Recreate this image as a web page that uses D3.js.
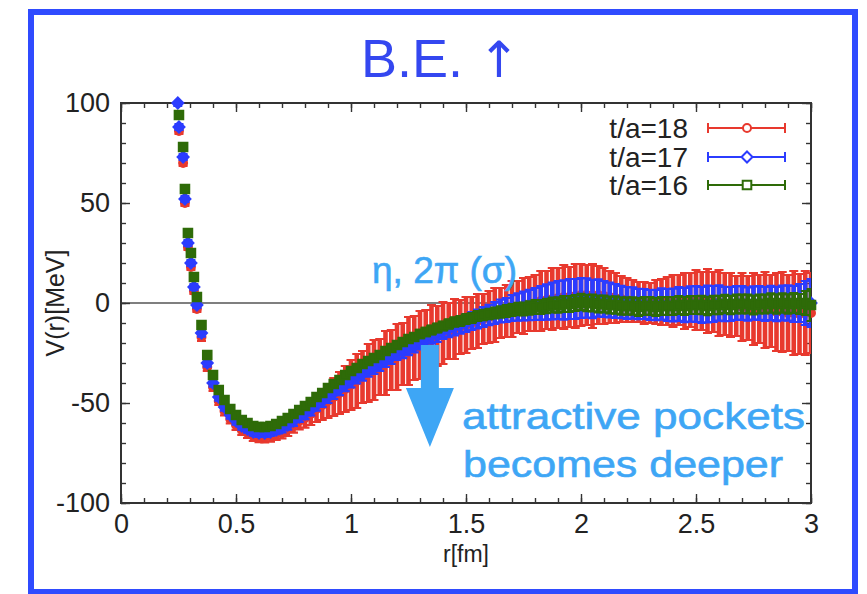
<!DOCTYPE html>
<html>
<head>
<meta charset="utf-8">
<script src="https://cdn.jsdelivr.net/npm/d3@7"></script>
<style>
  body { margin: 0; background: #fff; }
  svg { display: block; font-family: "Liberation Sans", Arial, sans-serif; }
</style>
</head>
<body>
<div id="chart"></div>
<script>
// r [fm] of the lattice points (shared by the three time slices)
const rValues = [0.247, 0.252, 0.27, 0.278, 0.291, 0.304, 0.317, 0.33,
  0.35, 0.375, 0.4, 0.425, 0.45, 0.475, 0.5, 0.525, 0.55, 0.575,
  0.6, 0.625, 0.65, 0.675, 0.7, 0.725, 0.75, 0.775, 0.8, 0.825, 0.85, 0.875,
  0.9, 0.925, 0.95, 0.975, 1.0, 1.025, 1.05, 1.075, 1.1, 1.125, 1.15, 1.175,
  1.2, 1.225, 1.25, 1.275, 1.3, 1.325, 1.35, 1.375, 1.4, 1.425, 1.45, 1.475,
  1.5, 1.525, 1.55, 1.575, 1.6, 1.625, 1.65, 1.675, 1.7, 1.725, 1.75, 1.775,
  1.8, 1.825, 1.85, 1.875, 1.9, 1.925, 1.95, 1.975, 2.0, 2.025, 2.05, 2.075,
  2.1, 2.125, 2.15, 2.175, 2.2, 2.225, 2.25, 2.275, 2.3, 2.325, 2.35, 2.375,
  2.4, 2.425, 2.45, 2.475, 2.5, 2.525, 2.55, 2.575, 2.6, 2.625, 2.65, 2.675,
  2.7, 2.725, 2.75, 2.775, 2.8, 2.825, 2.85, 2.875, 2.9, 2.925, 2.95, 2.975, 3.0];

// t/a=18
const v18 = [103, 86, 70, 50, 28, 18, 6, -3,
  -17, -32, -42, -49, -54, -58, -61, -63.5, -65, -66.5,
  -67, -67, -66.5, -65.5, -64.5, -63, -61, -59, -57.5, -55.5, -53, -51,
  -49, -47, -45, -43, -41, -39, -37, -35, -33.5, -32, -30, -28.5,
  -27, -25.5, -24, -22.5, -21, -19, -17.5, -16.5, -15, -14, -13, -12,
  -11, -10, -9, -8, -7, -6, -5, -4, -3, -2, -1.5, -0.5,
  0, 1, 1.5, 2, 2.5, 3, 3, 3.5, 4, 4, 3.5, 4,
  3.5, 3, 2.5, 2, 1.5, 1, 0.5, 0, 0, 0.5, 0.5, 1,
  1, 1.5, 1, 1.5, 1.5, 1, 1, 0.5, 0, -0.5, -1, -1.5,
  -2, -2.5, -3, -3, -3.5, -4, -4.5, -4.5, -5, -5, -5.5, -5, -5];
const e18 = [1.5, 1.5, 1.5, 1.5, 1.5, 1.5, 1.5, 1.5,
  2, 2, 2, 2, 2.2, 2.2, 2.4, 2.4, 2.5, 2.5,
  2.6, 2.7, 2.8, 3, 3.2, 3.5, 3.8, 4.2, 4.8, 5.5, 6.5, 7.5,
  8.5, 9.5, 10.5, 11.5, 12.5, 13.5, 13, 14.5, 15, 14, 16, 15,
  16.5, 15.5, 17, 16, 17, 15.5, 16.5, 15, 15.5, 14, 15, 13.5,
  14, 13, 13.5, 12.5, 13, 13.5, 12.5, 13, 14, 13, 14, 13.5,
  14, 15, 14.5, 15.5, 15, 16, 15, 16, 15.5, 15, 16, 14.5,
  14, 13, 12.5, 11.5, 11, 10.5, 10, 10.5, 10, 11, 11.5, 12,
  13, 12.5, 14, 13.5, 15, 14.5, 16, 15, 16.5, 15.5, 16, 15,
  17, 16, 18, 17, 19, 18, 19.5, 20, 19, 21, 20, 21, 20];

// t/a=17
const v17 = [100, 88, 73, 52, 30, 20, 8, -1,
  -15, -30, -40, -47, -52, -56, -59, -61.5, -63, -64.5,
  -65, -65, -64.5, -63.5, -62.5, -61, -59, -57, -55.5, -53.5, -51, -49,
  -47, -45, -43, -41, -39, -37, -35.5, -33.5, -32, -30.5, -28.5, -27,
  -25, -24, -22.5, -21, -19.5, -18, -16.5, -15.5, -14, -13, -12, -11,
  -10, -9, -8, -7, -6, -5, -4, -3.5, -2.5, -2, -1.5, -1,
  -0.5, 0, 0.5, 1, 1.5, 1.5, 2, 2, 2.5, 2.5, 2, 2.5,
  2, 1.5, 1, 0.5, 0, 0, -0.5, -0.5, -1, -1, -0.5, -1,
  -1, -0.5, -1, -0.5, -0.5, -1, -0.5, -0.5, 0, -0.5, -0.5, 0,
  0, -0.5, 0, 0, -0.5, 0, -0.5, 0, 0, -0.5, 0, 0, 0];
const e17 = [1.5, 1.5, 1.5, 1.5, 1.5, 1.5, 1.5, 1.5,
  1.8, 1.8, 1.8, 1.8, 1.8, 1.8, 1.8, 1.8, 1.8, 1.8,
  2, 2, 2, 2.1, 2.2, 2.3, 2.4, 2.5, 2.6, 2.7, 2.8, 2.9,
  3, 3, 3.1, 3.1, 3.2, 3.2, 3.3, 3.3, 3.4, 3.4, 3.5, 3.5,
  3.5, 3.6, 3.6, 3.7, 3.7, 3.8, 3.8, 3.9, 4, 4.1, 4.2, 4.3,
  4.4, 4.5, 4.7, 4.9, 5.1, 5.4, 5.7, 6, 6.4, 6.8, 7.2, 7.6,
  8, 8.4, 8.8, 9.2, 9.5, 9.8, 10, 10, 10, 9.8, 9.6, 9.3,
  9, 8.7, 8.4, 8.1, 8, 7.8, 7.6, 7.5, 7.5, 7.6, 7.8, 8,
  8.2, 8.4, 8.6, 8.8, 9, 9, 9.2, 9, 8.8, 8.6, 8.5, 8.4,
  8.4, 8.3, 8.3, 8.4, 8.5, 8.6, 8.6, 8.7, 8.8, 9, 9.5, 11, 12];

// t/a=16
const v16 = [106, 94, 78, 57, 35, 25, 13, 3,
  -11, -26, -36, -43.5, -48.5, -53, -56, -58.5, -60, -61.5,
  -62, -62, -61.5, -60.5, -59, -57.5, -55.5, -53.5, -51.5, -49.5, -47, -45,
  -42.5, -40.5, -38.5, -36, -34, -32.5, -30.5, -29, -27.5, -26, -24, -22.5,
  -21, -19.5, -18, -17, -15.5, -14.5, -13.5, -12.5, -11.5, -10.5, -9.5, -9,
  -8, -7.5, -6.5, -6, -5.5, -5, -4.5, -4, -3.5, -3, -3, -2.5,
  -2, -2, -1.5, -1, -1, -0.5, -0.5, 0, 0.5, 0, 0, -0.5,
  -0.5, -1, -1, -1.5, -1.5, -1.5, -2, -1.5, -1.5, -2, -1.5, -1.5,
  -1.5, -1, -1.5, -1, -1, -1, -1.5, -1, -1, -0.5, -1, -0.5,
  -0.5, -0.5, -1, -0.5, -0.5, 0, -0.5, 0, -0.5, 0, -0.5, 0, -1];
const e16 = [1, 1, 1, 1, 1, 1, 1, 1,
  1.2, 1.2, 1.2, 1.2, 1.2, 1.2, 1.2, 1.2, 1.2, 1.2,
  1.2, 1.2, 1.3, 1.3, 1.4, 1.4, 1.4, 1.5, 1.5, 1.5, 1.5, 1.5,
  1.5, 1.6, 1.6, 1.6, 1.6, 1.7, 1.7, 1.7, 1.8, 1.8, 1.8, 1.9,
  1.9, 2, 2, 2, 2.1, 2.1, 2.2, 2.2, 2.2, 2.3, 2.3, 2.4,
  2.4, 2.5, 2.5, 2.6, 2.6, 2.7, 2.8, 2.9, 3, 3.1, 3.2, 3.3,
  3.4, 3.5, 3.6, 3.7, 3.8, 3.9, 4, 4, 4.1, 4.1, 4.2, 4.2,
  4.2, 4.2, 4.3, 4.3, 4.3, 4.3, 4.4, 4.4, 4.4, 4.4, 4.4, 4.5,
  4.5, 4.5, 4.5, 4.5, 4.5, 4.6, 4.6, 4.6, 4.6, 4.6, 4.6, 4.7,
  4.7, 4.7, 4.7, 4.7, 4.7, 4.8, 4.8, 4.8, 4.8, 4.9, 5, 6, 8];

const seriesLabels = ["t/a=18", "t/a=17", "t/a=16"];
const xTicks = [0, 0.5, 1, 1.5, 2, 2.5, 3];
const yTicks = [-100, -50, 0, 50, 100];

const width = 867, height = 594;
const margin = {left: 121, right: 56, top: 103, bottom: 91};

const svg = d3.select("#chart").append("svg")
  .attr("width", width)
  .attr("height", height);

// blue frame around the slide panel
svg.append("rect")
  .attr("x", 31).attr("y", 12)
  .attr("width", 824).attr("height", 580)
  .attr("fill", "none")
  .attr("stroke", "#2f4bff")
  .attr("stroke-width", 6);

let title = svg.append("text")
  .attr("x", 361).attr("y", 77)
  .attr("font-size", 54)
  .attr("fill", "#3447f0");
title.append("tspan").text("B.E. ");
title.append("tspan").attr("font-family", "DejaVu Sans").attr("font-size", 50).text("↑");

const x = d3.scaleLinear().domain([0, 3]).range([margin.left, width - margin.right]);
const y = d3.scaleLinear().domain([-100, 100]).range([height - margin.bottom, margin.top]);

svg.append("clipPath").attr("id", "plotclip")
  .append("rect")
  .attr("x", x(0)).attr("y", y(100))
  .attr("width", x(3) - x(0)).attr("height", y(-100) - y(100));

// zero line
svg.append("line")
  .attr("x1", x(0)).attr("x2", x(3))
  .attr("y1", y(0)).attr("y2", y(0))
  .attr("stroke", "#555")
  .attr("stroke-width", 1.6);

// ticks: major every 0.5 / 50, minor every 0.1 / 10
const xMinor = d3.range(0, 31).map(i => i / 10);
const yMinor = d3.range(-10, 11).map(i => i * 10);

function drawAxis (axis, transform, labels) {
  let g = svg.append("g").attr("transform", transform).call(axis);
  g.select(".domain").remove();
  g.selectAll("line").attr("stroke", "#333").attr("stroke-width", 1.4);
  g.selectAll("text")
    .attr("font-size", 27)
    .attr("font-family", "Liberation Sans, Arial, sans-serif")
    .attr("fill", "#222");
  if (!labels) g.selectAll("text").remove();
  return g;
}

drawAxis(d3.axisBottom(x).tickValues(xMinor).tickSizeInner(-5).tickSizeOuter(0).tickFormat(""), `translate(0,${y(-100)})`, false);
drawAxis(d3.axisBottom(x).tickValues(xTicks).tickSizeInner(-9).tickSizeOuter(0).tickPadding(11).tickFormat(d => String(d)), `translate(0,${y(-100)})`, true);
drawAxis(d3.axisTop(x).tickValues(xMinor).tickSizeInner(-5).tickSizeOuter(0).tickFormat(""), `translate(0,${y(100)})`, false);
drawAxis(d3.axisTop(x).tickValues(xTicks).tickSizeInner(-9).tickSizeOuter(0).tickFormat(""), `translate(0,${y(100)})`, false);
drawAxis(d3.axisLeft(y).tickValues(yMinor).tickSizeInner(-5).tickSizeOuter(0).tickFormat(""), `translate(${x(0)},0)`, false);
drawAxis(d3.axisLeft(y).tickValues(yTicks).tickSizeInner(-9).tickSizeOuter(0).tickPadding(11).tickFormat(d => String(d)), `translate(${x(0)},0)`, true);
drawAxis(d3.axisRight(y).tickValues(yMinor).tickSizeInner(-5).tickSizeOuter(0).tickFormat(""), `translate(${x(3)},0)`, false);
drawAxis(d3.axisRight(y).tickValues(yTicks).tickSizeInner(-9).tickSizeOuter(0).tickFormat(""), `translate(${x(3)},0)`, false);

svg.append("rect")
  .attr("x", x(0)).attr("y", y(100))
  .attr("width", x(3) - x(0)).attr("height", y(-100) - y(100))
  .attr("fill", "none")
  .attr("stroke", "#333")
  .attr("stroke-width", 2);

svg.append("text")
  .attr("x", (x(0) + x(3)) / 2).attr("y", 562)
  .attr("text-anchor", "middle")
  .attr("font-size", 23)
  .attr("fill", "#222")
  .text("r[fm]");

svg.append("text")
  .attr("transform", `translate(64,${y(0)}) rotate(-90)`)
  .attr("text-anchor", "middle")
  .attr("font-size", 25)
  .attr("fill", "#222")
  .text("V(r)[MeV]");

// marker shapes, gnuplot like
const symbols = {
  circle: "M4,0A4,4 0 1,1 -4,0A4,4 0 1,1 4,0Z",
  diamond: "M0,-5.5L5.5,0L0,5.5L-5.5,0Z",
  square: "M-4.3,-4.3H4.3V4.3H-4.3Z"
};

const series = [
  {label: seriesLabels[0], color: "#e8392e", symbol: "circle", v: v18, e: e18},
  {label: seriesLabels[1], color: "#2b3cff", symbol: "diamond", v: v17, e: e17},
  {label: seriesLabels[2], color: "#2e6b08", symbol: "square", v: v16, e: e16}
];

const capHalf = 4.5;

series.forEach(function (s) {
  let pts = rValues.map((r, i) => ({r: r, v: s.v[i], e: s.e[i]}))
    .filter(d => d.v >= -100 && d.v <= 100);

  let g = svg.append("g").attr("class", "series");
  let bars = g.append("g").attr("clip-path", "url(#plotclip)")
    .attr("stroke", s.color).attr("fill", "none");

  // dense points: thick vertical bars so neighbours merge into a band
  bars.selectAll(".bar")
    .data(pts)
    .enter().append("path")
    .attr("class", "bar")
    .attr("stroke-width", 4.6)
    .attr("d", d => "M" + x(d.r) + "," + y(d.v - d.e) + "V" + y(d.v + d.e));

  bars.selectAll(".cap")
    .data(pts)
    .enter().append("path")
    .attr("class", "cap")
    .attr("stroke-width", 2.2)
    .attr("d", function (d) {
      let px = x(d.r), lo = y(d.v - d.e), hi = y(d.v + d.e);
      return "M" + (px - capHalf) + "," + hi + "H" + (px + capHalf) +
        "M" + (px - capHalf) + "," + lo + "H" + (px + capHalf);
    });

  g.selectAll(".pt")
    .data(pts)
    .enter().append("path")
    .attr("class", "pt")
    .attr("transform", d => "translate(" + x(d.r) + "," + y(d.v) + ")")
    .attr("d", symbols[s.symbol])
    .attr("fill", s.color)
    .attr("stroke", s.color)
    .attr("stroke-width", 2);
});

// legend
const legendRows = [128, 157, 185];
series.forEach(function (s, i) {
  let ly = legendRows[i];
  svg.append("text")
    .attr("x", 688).attr("y", ly + 10)
    .attr("text-anchor", "end")
    .attr("font-size", 28)
    .attr("fill", "#222")
    .text(s.label);
  let lg = svg.append("g").attr("stroke", s.color).attr("stroke-width", 2).attr("fill", "none");
  lg.append("path").attr("d", `M708,${ly}H785M708,${ly - 5}V${ly + 5}M785,${ly - 5}V${ly + 5}`);
  lg.append("path")
    .attr("transform", `translate(747,${ly})`)
    .attr("d", symbols[s.symbol])
    .attr("fill", "#fff");
});

// annotations
const noteColor = "#3ea6f5";
const arrowR = 1.343, arrowTop = -21, arrowHeadBase = -42.5, arrowTip = -72;
const shaftHalf = 9, headHalf = 24;
let ax = x(arrowR);
svg.append("path")
  .attr("d", `M${ax - shaftHalf},${y(arrowTop)}H${ax + shaftHalf}V${y(arrowHeadBase)}H${ax + headHalf}` +
    `L${ax},${y(arrowTip)}L${ax - headHalf},${y(arrowHeadBase)}H${ax - shaftHalf}Z`)
  .attr("fill", noteColor);

function note (tx, ty, size, len, str) {
  svg.append("text")
    .attr("x", tx).attr("y", ty)
    .attr("font-size", size)
    .attr("textLength", len).attr("lengthAdjust", "spacingAndGlyphs")
    .attr("fill", noteColor)
    .attr("stroke", noteColor)
    .attr("stroke-width", 0.6)
    .text(str);
}
note(372, 283, 36, 145, "η, 2π (σ)");
note(462, 429, 37, 343, "attractive pockets");
note(463, 477, 37, 320, "becomes deeper");
</script>
</body>
</html>
